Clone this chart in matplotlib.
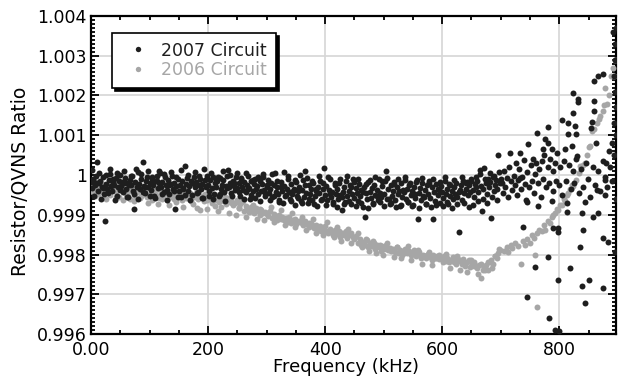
import numpy as np
import matplotlib
matplotlib.use('Agg')
import matplotlib.pyplot as plt
from matplotlib.ticker import MultipleLocator

# frequency sweep of the 2007 circuit (kHz), band part
black_freq = [
    0, 2, 4, 6, 8, 10, 12, 14, 16, 18, 20, 22, 24, 26, 28, 30, 32, 34, 36, 38,
    40, 42, 44, 46, 48, 50, 52, 54, 56, 58, 60, 62, 64, 66, 68, 70, 72, 74, 76, 78,
    80, 82, 84, 86, 88, 90, 92, 94, 96, 98, 100, 102, 104, 106, 108, 110, 112, 114, 116, 118,
    120, 122, 124, 126, 128, 130, 132, 134, 136, 138, 140, 142, 144, 146, 148, 150, 152, 154, 156, 158,
    160, 162, 164, 166, 168, 170, 172, 174, 176, 178, 180, 182, 184, 186, 188, 190, 192, 194, 196, 198,
    200, 202, 204, 206, 208, 210, 212, 214, 216, 218, 220, 222, 224, 226, 228, 230, 232, 234, 236, 238,
    240, 242, 244, 246, 248, 250, 252, 254, 256, 258, 260, 262, 264, 266, 268, 270, 272, 274, 276, 278,
    280, 282, 284, 286, 288, 290, 292, 294, 296, 298, 300, 302, 304, 306, 308, 310, 312, 314, 316, 318,
    320, 322, 324, 326, 328, 330, 332, 334, 336, 338, 340, 342, 344, 346, 348, 350, 352, 354, 356, 358,
    360, 362, 364, 366, 368, 370, 372, 374, 376, 378, 380, 382, 384, 386, 388, 390, 392, 394, 396, 398,
    400, 402, 404, 406, 408, 410, 412, 414, 416, 418, 420, 422, 424, 426, 428, 430, 432, 434, 436, 438,
    440, 442, 444, 446, 448, 450, 452, 454, 456, 458, 460, 462, 464, 466, 468, 470, 472, 474, 476, 478,
    480, 482, 484, 486, 488, 490, 492, 494, 496, 498, 500, 502, 504, 506, 508, 510, 512, 514, 516, 518,
    520, 522, 524, 526, 528, 530, 532, 534, 536, 538, 540, 542, 544, 546, 548, 550, 552, 554, 556, 558,
    560, 562, 564, 566, 568, 570, 572, 574, 576, 578, 580, 582, 584, 586, 588, 590, 592, 594, 596, 598,
    600, 602, 604, 606, 608, 610, 612, 614, 616, 618, 620, 622, 624, 626, 628, 630, 632, 634, 636, 638,
    640, 642, 644, 646, 648, 650, 652, 654, 656, 658, 660, 662, 664, 666, 668, 670, 672, 674, 676, 678,
    680, 682, 684, 686, 688, 690, 692, 694, 696, 698, 700]

# deviation of the ratio from 1, in ppm
black_ppm = [
    -180, -320, -90, -250, -30, 330, -410, -200, -140, -300,
    -60, -480, -1160, -220, -350, -120, 20, -270, -390, -170,
    -240, -80, -520, -310, -150, -10, -280, -430, -190, -70,
    -340, -210, -560, -120, -260, -30, -400, -860, -180, -290,
    80, -230, -360, -110, 330, -270, -450, -160, -50, -310,
    -200, -380, -90, -250, -520, -140, -20, -330, -210, 50,
    -300, -170, -430, -60, -260, -380, -120, -490, -220, -30,
    -350, -190, -860, -270, -100, -410, -240, -560, -150, -320,
    230, -230, -80, -390, -280, -140, -500, -200, -40, -310,
    -170, -440, -260, -90, -350, -220, -580, -120, -300, -20,
    -250, -400, -130, -330, -60, -470, -210, -290, -150, -520,
    -80, -360, -240, -130, -420, -280, -20, 126, -310, -190,
    -460, -150, -270, -380, -60, -330, -210, -540, -100, -290,
    -370, -180, -440, -250, -30, -320, -600, -140, -400, -230,
    -100, -350, -270, -480, -160, -410, -220, -60, -380, -520,
    -290, -130, -450, -340, -200, -560, -250, 50, -420, -310,
    -480, -620, -170, -390, -710, -280, -520, -350, -90, -440,
    -600, -230, -470, -360, -750, -180, -540, -410, -300, -660,
    -380, -120, -560, 100, -450, -700, -260, -490, -340, -620,
    -210, -530, -400, -780, -300, -460, -150, -610, -350, 170,
    -500, -270, -640, -380, -90, -560, -430, -720, -240, -470,
    -350, -600, -190, -510, -880, -420, -300, -680, -150, -540,
    -400, -260, -730, -470, -110, -590, -330, -450, -650, -220,
    -520, -380, -800, -290, -1060, -460, -610, -180, -420, -570,
    -330, -700, -240, -510, -380, -620, -90, -450, -560, -280,
    -480, -150, 100, -600, -360, -720, -250, -530, -410, -170,
    -640, -300, -470, -390, -780, -210, -550, -430, -120, -600,
    -350, -680, -240, -500, -410, -760, -290, -570, -180, -1100,
    -460, -320, -620, -200, -540, -380, -720, -260, -490, -150,
    -570, -300, -1100, -430, -650, -220, -510, -380, -700, -270,
    -440, -590, -160, -480, -350, -740, -230, -520, -410, -610,
    -300, -480, -200, -560, -1430, -380, -250, -620, -140, -450,
    -340, -180, -500, -260, -420, -90, -380, -560, -220, -300,
    -150, -420, 130, -270, -900, -350, 170, -200, -480, -100,
    -310, -180, -1080, -60, -400, -240, -130, -360, 500, -210,
    -90]

# second pass of the 2007 sweep, odd frequencies
black2_freq = [
    1, 5, 9, 13, 17, 21, 25, 29, 33, 37, 41, 45, 49, 53, 57, 61, 65, 69, 73, 77,
    81, 85, 89, 93, 97, 101, 105, 109, 113, 117, 121, 125, 129, 133, 137, 141, 145, 149, 153, 157,
    161, 165, 169, 173, 177, 181, 185, 189, 193, 197, 201, 205, 209, 213, 217, 221, 225, 229, 233, 237,
    241, 245, 249, 253, 257, 261, 265, 269, 273, 277, 281, 285, 289, 293, 297, 301, 305, 309, 313, 317,
    321, 325, 329, 333, 337, 341, 345, 349, 353, 357, 361, 365, 369, 373, 377, 381, 385, 389, 393, 397,
    401, 405, 409, 413, 417, 421, 425, 429, 433, 437, 441, 445, 449, 453, 457, 461, 465, 469, 473, 477,
    481, 485, 489, 493, 497, 501, 505, 509, 513, 517, 521, 525, 529, 533, 537, 541, 545, 549, 553, 557,
    561, 565, 569, 573, 577, 581, 585, 589, 593, 597, 601, 605, 609, 613, 617, 621, 625, 629, 633, 637,
    641, 645, 649, 653, 657, 661, 665, 669, 673, 677, 681, 685, 689, 693, 697]
black2_ppm = [
    120, -520, -210, 40, -600, -330, -10, -450, 150, -90, -640, 60, -380, -170, 100, -560, -260, -20, -480, 140,
    -610, 30, -420, -300, 90, -530, -40, -590, -150, 110, -470, 20, -640, -240, 70, -400, -60, -560, 130, -350,
    -500, 10, -620, -190, 80, -450, -30, -580, 160, -270, -520, 50, -600, -110, -50, -480, 100, -650, -330, 0,
    -540, -200, 60, -420, -80, -610, 40, -360, -500, -120, -570, -40, -660, 20, -460, -250, -620, 30, -540, -150,
    -690, -300, 80, -500, -20, -650, -400, -120, -580, 10, -700, -250, -70, -600, -140, -720, -350, -30, -640, -200,
    -760, -60, -480, -680, -200, -800, -100, -560, -720, -30, -650, -300, -180, -780, -90, -700, -420, -220, -820, -120,
    -740, -40, -520, -690, -160, -790, -80, -600, -700, -230, -810, -110, -750, -380, -50, -680, -190, -770, -470, -130,
    -820, -70, -560, -720, -210, -800, -100, -760, -340, -170, -780, -60, -690, -240, -830, -120, -740, -440, -40, -700,
    -200, -800, -150, -760, -60, -650, 20, -600, -100, -700, 60, -550, -20, -620, 80]

# 2007 circuit above 700 kHz, where the scatter opens up
black_tail_freq = [
    702, 704, 706, 708, 710, 712, 714, 716, 718, 720, 722, 724, 726, 728, 730, 732, 733, 735, 737, 739,
    741, 743, 745, 747, 749, 751, 753, 755, 757, 759, 761, 762, 764, 766, 768, 770, 772, 774, 776, 778,
    780, 781, 783, 785, 787, 789, 790, 792, 794, 796, 799, 802, 805, 808, 811, 814, 817, 820, 823, 826,
    829, 833, 837, 841, 845, 849, 853, 857, 861, 866, 870, 874, 878, 882, 886, 890, 894, 897,
    733, 773, 781, 788, 805, 810, 815, 815, 822, 824, 824, 827, 829, 831, 832, 832, 855, 856, 860, 860,
    860, 862, 867, 875, 892, 897, 896, 895, 893, 896, 897, 893, 897, 890, 885, 880,
    879, 865, 879, 844, 858, 866, 875, 884, 896, 836, 841, 819, 798, 850, 839, 874, 844, 745, 759, 781,
    738, 798, 798, 790, 839, 764, 745, 814, 793, 800, 783]
black_tail_ppm = [
    -200, -450, 100, -300, -80, -550, 200, 550, -150, -380, -20, -250, 300, -500, -120, 150, 550, -350, -60, 380,
    -230, -620, 80, 780, -300, 250, -150, 400, -450, 20, 300, 1060, -200, 150, -550, 350, -100, 500, 910, -300,
    200, 810, -200, 400, -650, 100, -400, 300, -150, 550, -250, 200, -500, 350, -150, -700, 250, -350, 100, -200,
    400, -450, 150, -300, 300, -100, -550, 200, -250, 100, -400, 350, -50, -300, 200, -150, 500, -600,
    -80, 650, 1210, 650, 1380, 650, 1310, 1030, 730, 2060, 1560, 1230, 1030, 480, 1910, 1840, 1180, 1330, 2360, 1860,
    1610, 810, 2490, 2540, 3600, 3700, 3300, 2900, 2500, 2100, 1700, 1300, 1000, 800, 600, 300,
    -130, -380, -500, -680, -1060, -960, -1580, -1690, -1940, -1810, -1380, -2340, -2640, -2640, -2790, -2840, -3220, -3070, -2310, -2060,
    -1310, -1330, -1430, -1330, -960, -780, -680, -930, -3900, -3920, -3600]

# frequency sweep of the 2006 circuit (kHz)
gray_freq = [
    0, 3, 6, 9, 12, 15, 18, 21, 24, 27, 30, 33, 36, 39, 42, 45, 48, 51, 54, 57,
    60, 63, 66, 69, 72, 75, 78, 81, 84, 87, 90, 93, 96, 99, 102, 105, 108, 111, 114, 117,
    120, 123, 126, 129, 132, 135, 138, 141, 144, 147, 150, 153, 156, 159, 162, 165, 168, 171, 174, 177,
    180, 183, 186, 189, 192, 195, 198, 201, 204, 207, 210, 213, 216, 219, 222, 225, 228, 231, 234, 237,
    240, 243, 246, 249, 252, 255, 258, 261, 264, 267, 270, 273, 276, 279, 282, 285, 288, 291, 294, 297,
    300, 303, 306, 309, 312, 315, 318, 321, 324, 327, 330, 333, 336, 339, 342, 345, 348, 351, 354, 357,
    360, 363, 366, 369, 372, 375, 378, 381, 384, 387, 390, 393, 396, 399, 402, 405, 408, 411, 414, 417,
    420, 423, 426, 429, 432, 435, 438, 441, 444, 447, 450, 453, 456, 459, 462, 465, 468, 471, 474, 477,
    480, 483, 486, 489, 492, 495, 498, 501, 504, 507, 510, 513, 516, 519, 522, 525, 528, 531, 534, 537,
    540, 543, 546, 549, 552, 555, 558, 561, 564, 567, 570, 573, 576, 579, 582, 585, 588, 591, 594, 597,
    600, 603, 606, 609, 612, 615, 618, 621, 624, 627, 630, 633, 636, 639, 642, 645, 648, 651, 654, 657,
    660, 663, 666, 669, 672, 675, 678, 681, 684, 687, 690, 693, 696, 699,
    705, 710, 713, 718, 720, 725, 730, 735, 738, 742, 745, 750, 753, 756, 759, 762, 762, 766, 770, 774,
    776, 780, 785, 788, 790, 793, 796, 798, 801, 805, 808, 810, 813, 815, 818, 822, 824, 828, 833, 836,
    840, 844, 847, 850, 853, 856, 860, 865, 868, 870, 874, 877, 879, 882, 885, 889, 891, 893, 895]
gray_ppm = [
    -250, -420, -330, -180, -480, -300, -390, -220, -450, -350,
    -280, -500, -380, -200, -430, -320, -550, -260, -410, -350,
    -480, -300, -600, -390, -250, -520, -420, -340, -580, -290,
    -470, -380, -560, -320, -450, -620, -400, -510, -350, -580,
    -440, -530, -390, -640, -480, -560, -420, -600, -500, -370,
    -550, -470, -630, -520, -420, -590, -480, -650, -530, -560,
    -450, -600, -880, -520, -580, -490, -640, -550, -610, -700,
    -560, -620, -510, -680, -800, -590, -650, -720, -570, -690,
    -640, -760, -700, -620, -820, -740, -680, -900, -780, -850,
    -930, -800, -870, -960, -830, -900, -1000, -880, -960, -920,
    -960, -1020, -900, -1080, -990, -1050, -1130, -1000, -1100, -1060,
    -1130, -1080, -1180, -1050, -1200, -1140, -1100, -1230, -1170, -1150,
    -1200, -1260, -1160, -1230, -1300, -1210, -1270, -1330, -1250, -1380,
    -1300, -1420, -1350, -1280, -1400, -1450, -1360, -1430, -1500, -1390,
    -1480, -1420, -1550, -1460, -1520, -1400, -1580, -1510, -1470, -1560,
    -1620, -1540, -1700, -1600, -1760, -1680, -1750, -1640, -1800, -1720,
    -1780, -1720, -1850, -1760, -1820, -1900, -1790, -1860, -1750, -1880,
    -1830, -1910, -1870, -1940, -1800, -1960, -1880, -2010, -1920, -1850,
    -1950, -1900, -2020, -1970, -1880, -2050, -1990, -1930, -2080, -2000,
    -2030, -2100, -1980, -2060, -2140, -2010, -2090, -2050, -2120, -2070,
    -2100, -2040, -2160, -2080, -2200, -2130, -2060, -2180, -2250, -2110,
    -2170, -2230, -2120, -2280, -2200, -2150, -2320, -2240, -2190, -2300,
    -2350, -2260, -2590, -2400, -2310, -2270, -2380, -2200, -2140, -2250,
    -2050, -2100, -1950, -1880,
    -1900, -1800, -1940, -1760, -1840, -1700, -1780, -2240, -1650, -1760,
    -1600, -1700, -1520, -1580, -2000, -1450, -3320, -1380, -1400, -1250,
    -1380, -1150, -1210, -1060, -1000, -960, -850, -880, -760, -750,
    -600, -650, -500, -450, -350, -250, -280, -120, 50, 230,
    250, 300, 500, 700, 730, 1100, 1150, 1300, 1400, 1480,
    1600, 1750, 2190, 1790, 2000, 2490, 2700, 2500, 2900]

# second pass of the 2006 sweep
gray2_freq = [
    1, 7, 13, 19, 25, 31, 37, 43, 49, 55, 61, 67, 73, 79, 85, 91, 97, 103, 109, 115,
    121, 127, 133, 139, 145, 151, 157, 163, 169, 175, 181, 187, 193, 199, 205, 211, 217, 223, 229, 235,
    241, 247, 253, 259, 265, 271, 277, 283, 289, 295, 301, 307, 313, 319, 325, 331, 337, 343, 349, 355,
    361, 367, 373, 379, 385, 391, 397, 403, 409, 415, 421, 427, 433, 439, 445, 451, 457, 463, 469, 475,
    481, 487, 493, 499, 505, 511, 517, 523, 529, 535, 541, 547, 553, 559, 565, 571, 577, 583, 589, 595,
    601, 607, 613, 619, 625, 631, 637, 643, 649, 655, 661, 667, 673, 679, 685, 691, 697]
gray2_ppm = [
    -150, -520, -380, -250, -600, -440, -200, -560, -330, -620, -470, -280, -650, -400, -540, -300, -700, -450, -380, -740,
    -600, -420, -760, -520, -680, -440, -800, -580, -460, -720, -840, -530, -650, -860, -500, -770, -900, -620, -560, -950,
    -700, -1000, -820, -650, -1050, -900, -760, -1100, -850, -1130, -980, -800, -1180, -1020, -880, -1250, -1100, -950, -1300, -1150,
    -1050, -1380, -1200, -1100, -1470, -1280, -1500, -1180, -1400, -1560, -1300, -1650, -1450, -1350, -1700, -1550, -1450, -1800, -1620, -1900,
    -1650, -1950, -1760, -2000, -1700, -1880, -2060, -1800, -2100, -1950, -1780, -2150, -2000, -1880, -2250, -2050, -1930, -2270, -2100, -2000,
    -2200, -1980, -2330, -2100, -2050, -2380, -2200, -2450, -2150, -2300, -2500, -2250, -2400, -2200, -2330, -2050, -1850]

x_ticks = [0, 200, 400, 600, 800]
x_labels = ['0.00', '200', '400', '600', '800']
y_ticks = [0.996, 0.997, 0.998, 0.999, 1.000, 1.001, 1.002, 1.003, 1.004]
y_labels = ['0.996', '0.997', '0.998', '0.999', '1', '1.001', '1.002', '1.003', '1.004']

plt.rcParams['font.family'] = 'DejaVu Sans'
plt.rcParams['font.size'] = 12.5

fig = plt.figure(figsize=(6.2, 3.79), dpi=100)
ax = fig.add_axes([0.1468, 0.1187, 0.8468, 0.8391])

bx = np.array(black_freq + black2_freq + black_tail_freq)
by = 1 + np.array(black_ppm + black2_ppm + black_tail_ppm) * 1e-6
gx = np.array(gray_freq + gray2_freq)
gy = 1 + np.array(gray_ppm + gray2_ppm) * 1e-6

ax.plot(gx, gy, 'o', color='#a6a6a6', ms=4.3, mew=0, zorder=3, label='2006 Circuit')
ax.plot(bx, by, 'o', color='#1e1e1e', ms=4.3, mew=0, zorder=4, label='2007 Circuit')

ax.set_xlim(0, 897)
ax.set_ylim(0.996, 1.004)
ax.set_xticks(x_ticks)
ax.set_xticklabels(x_labels)
ax.set_yticks(y_ticks)
ax.set_yticklabels(y_labels)
ax.xaxis.set_minor_locator(MultipleLocator(50))
ax.yaxis.set_minor_locator(MultipleLocator(0.0001))
ax.tick_params(which='both', direction='in', top=True, right=True, width=1.3)
ax.tick_params(which='major', length=5.5)
ax.tick_params(axis='x', which='major', pad=5)
ax.tick_params(axis='y', which='major', pad=3)
ax.tick_params(which='minor', length=3)
ax.grid(True, which='major', color='#d6d6d6', lw=1.2, zorder=0)
for s in ax.spines.values():
    s.set_linewidth(1.6)

ax.set_xlabel('Frequency (kHz)', fontsize=13)
ax.xaxis.set_label_coords(0.486, -0.075)
ax.set_ylabel('Resistor/QVNS Ratio', fontsize=13.5)
ax.yaxis.set_label_coords(-0.118, 0.48)

h, l = ax.get_legend_handles_labels()
leg = ax.legend(h[::-1], l[::-1], loc='upper left', bbox_to_anchor=(0.04, 0.947),
                borderaxespad=0, fancybox=False, edgecolor='black', framealpha=1,
                shadow={'color': 'black', 'alpha': 1}, handlelength=2.0, handletextpad=0.35,
                borderpad=0.5, labelspacing=0.1, markerscale=0.9,
                labelcolor=['#1e1e1e', '#a6a6a6'])
leg.get_frame().set_linewidth(1.2)

fig.savefig('out.png', dpi=100)
